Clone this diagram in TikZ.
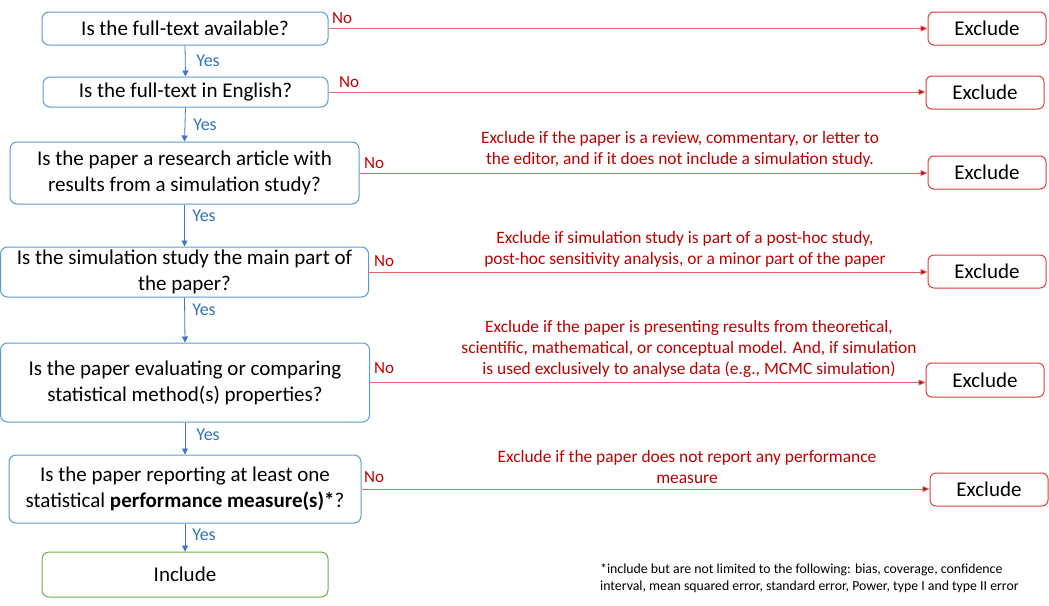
\documentclass[tikz,border=0pt]{standalone}
\usepackage{fontspec}
\setmainfont{Carlito}
\usetikzlibrary{arrows.meta}
\definecolor{qblue}{HTML}{5B9BD5}
\definecolor{ablue}{HTML}{4472C4}
\definecolor{yblue}{HTML}{2E75B6}
\definecolor{nred}{HTML}{C00000}
\definecolor{lred}{HTML}{E06666}
\definecolor{xred}{HTML}{E03C3C}
\definecolor{igreen}{HTML}{70AD47}
\tikzset{
  qbox/.style={draw=qblue, line width=1pt, rounded corners=7pt, inner sep=0pt, align=center, font=\fontsize{21}{26}\selectfont},
  xbox/.style={draw=xred, line width=1pt, rounded corners=6pt, inner sep=0pt, minimum width=118pt, minimum height=33pt, font=\fontsize{21}{24}\selectfont},
  ibox/.style={draw=igreen, line width=1pt, rounded corners=7pt, inner sep=0pt, font=\fontsize{21}{24}\selectfont},
  yesarrow/.style={draw=ablue, line width=0.8pt, -{Triangle[length=6pt,width=6pt]}},
  noarrow/.style={draw=lred, line width=0.8pt, -{Triangle[length=7pt,width=6pt,fill=nred]}},
  yeslbl/.style={text=yblue, font=\fontsize{18}{20}\selectfont, inner sep=0pt},
  nolbl/.style={text=nred, font=\fontsize{17}{19}\selectfont, inner sep=0pt, anchor=west},
  note/.style={text=nred, font=\fontsize{17.4}{21}\selectfont, align=center, inner sep=0pt},
}
\begin{document}
\begin{tikzpicture}[x=1pt,y=-1pt]
\useasboundingbox (0,0) rectangle (1049,605);
% question boxes
\node[qbox, minimum width=286pt, minimum height=33pt] (b1) at (185,28.5) {Is the full-text available?};
\node[qbox, minimum width=285pt, minimum height=30pt] (b2) at (185.5,92) {Is the full-text in English?};
\node[qbox, minimum width=349pt, minimum height=62pt] (b3) at (184.5,173) {Is the paper a research article with\\results from a simulation study?};
\node[qbox, minimum width=368pt, minimum height=50pt] (b4) at (184.5,272) {Is the simulation study the main part of\\the paper?};
\node[qbox, minimum width=369pt, minimum height=79pt] (b5) at (185,382.5) {Is the paper evaluating or comparing\\statistical method(s) properties?};
\node[qbox, minimum width=352pt, minimum height=68pt] (b6) at (185,489) {Is the paper reporting at least one\\statistical \textbf{performance measure(s)*}?};
\node[ibox, minimum width=286pt, minimum height=45pt] (inc) at (185,574.5) {Include};
% exclude boxes
\node[xbox] (e1) at (987,28.5) {Exclude};
\node[xbox] (e2) at (985,92.5) {Exclude};
\node[xbox] (e3) at (987,172.5) {Exclude};
\node[xbox] (e4) at (987,271.5) {Exclude};
\node[xbox, minimum height=34pt] (e5) at (985,380) {Exclude};
\node[xbox] (e6) at (989,489.5) {Exclude};
% yes arrows
\draw[yesarrow] (b1.south) -- (b2.north);
\draw[yesarrow] (b2.south) -- (b3.north);
\draw[yesarrow] (b3.south) -- (b4.north);
\draw[yesarrow] (b4.south) -- (b5.north);
\draw[yesarrow] (b5.south) -- (b6.north);
\draw[yesarrow] (b6.south) -- (inc.north);
\node[yeslbl] (y1) at (208,61) {Yes};
\node[yeslbl] (y2) at (205,125) {Yes};
\node[yeslbl] (y3) at (204,216) {Yes};
\node[yeslbl] (y4) at (204,310) {Yes};
\node[yeslbl] (y5) at (208,435) {Yes};
\node[yeslbl] (y6) at (204,535) {Yes};
% no arrows
\draw[noarrow] (b1.east) -- (b1.east -| e1.west);
\draw[noarrow] (b2.east) -- (b2.east -| e2.west);
\draw[noarrow] (b3.east) -- (b3.east -| e3.west);
\draw[noarrow] (b4.east) -- (b4.east -| e4.west);
\draw[noarrow] (b5.east) -- (b5.east -| e5.west);
\draw[noarrow] (b6.east) -- (b6.east -| e6.west);
\node[nolbl] (n1) at (332,18) {No};
\node[nolbl] (n2) at (339,82) {No};
\node[nolbl] (n3) at (364,163) {No};
\node[nolbl] (n4) at (374,261) {No};
\node[nolbl] (n5) at (374,368) {No};
\node[nolbl] (n6) at (364,477) {No};
% notes
\node[note] (t3) at (680,149.5) {Exclude if the paper is a review, commentary, or letter to\\the editor, and if it does not include a simulation study.};
\node[note] (t4) at (685,249.5) {Exclude if simulation study is part of a post-hoc study,\\post-hoc sensitivity analysis, or a minor part of the paper};
\node[note] (t5) at (689,349) {Exclude if the paper is presenting results from theoretical,\\scientific, mathematical, or conceptual model. And, if simulation\\is used exclusively to analyse data (e.g., MCMC simulation)};
\node[note] (t6) at (687,467.5) {Exclude if the paper does not report any performance\\measure};
\node[font=\fontsize{13.8}{17}\selectfont, align=left, anchor=north west, inner sep=0pt] (fn) at (600,563) {*include but are not limited to the following: bias, coverage, confidence\\interval, mean squared error, standard error, Power, type I and type II error};
\end{tikzpicture}
\end{document}
